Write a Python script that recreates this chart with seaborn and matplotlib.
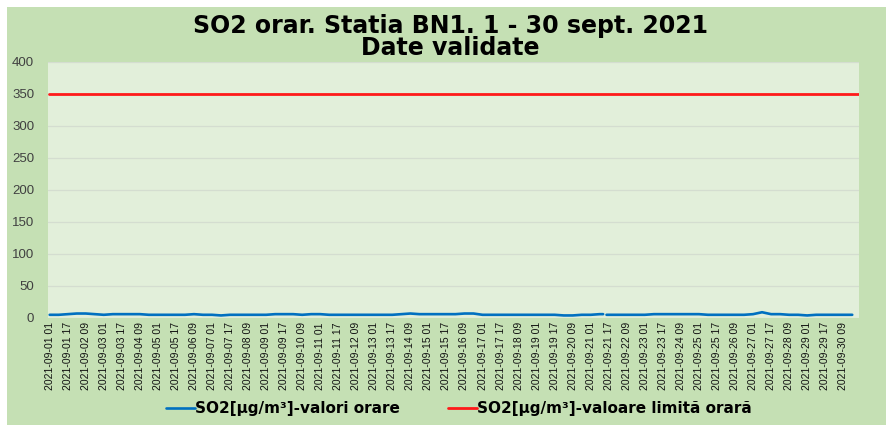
import matplotlib
matplotlib.use("Agg")
import matplotlib.pyplot as plt
from matplotlib.patches import Rectangle
import seaborn as sns
import pandas as pd
import numpy as np

so2_start = "2021-09-01 01:00"
so2_values = [
    5, 5, 6,   7, 7, 6,   5, 6, 6,   6, 6, 5,   5, 5, 5,
    5, 6, 5,   5, 4, 5,   5, 5, 5,   5, 6, 6,   6, 5, 6,
    6, 5, 5,   5, 5, 5,   5, 5, 5,   6, 7, 6,   6, 6, 6,
    6, 7, 7,   5, 5, 5,   5, 5, 5,   5, 5, 5,   4, 4, 5,
    5, 6, 5,   5, 5, 5,   5, 6, 6,   6, 6, 6,   6, 5, 5,
    5, 5, 5,   6, 9, 6,   6, 5, 5,   4, 5, 5,   5, 5, 5,
]
# missing hours on 21 sept (line break)
gap_times = ["2021-09-21 12:00", "2021-09-21 13:00", "2021-09-21 15:00"]
gap_values = [6, np.nan, 5]

limit_value = 350
y_ticks = [0, 50, 100, 150, 200, 250, 300, 350, 400]

times = pd.date_range(so2_start, periods=len(so2_values), freq="8h")
df = pd.DataFrame({"time": times, "so2": so2_values})
df = pd.concat([df, pd.DataFrame({"time": pd.to_datetime(gap_times), "so2": gap_values})])
df = df.sort_values("time").reset_index(drop=True)
gap_at = df.index[df["so2"].isna()][0]
part1 = df.iloc[:gap_at]
part2 = df.iloc[gap_at + 1:]

t0 = pd.Timestamp(so2_start)
t_end = t0 + pd.Timedelta(hours=718)
limit_df = pd.DataFrame({"time": [t0 - pd.Timedelta(hours=1), t_end],
                         "limit": [limit_value, limit_value]})

sns.set_style("white")
plt.rcParams["font.family"] = ["Liberation Sans", "DejaVu Sans"]

fig = plt.figure(figsize=(8.86, 4.30), dpi=100)
fig.patch.set_facecolor("white")
fig.patches.append(Rectangle((7 / 886, 1 - 425 / 430), 1 - 7 / 886, (425 - 7) / 430,
                             transform=fig.transFigure, facecolor="#c5e0b4",
                             edgecolor="none", zorder=-10))

ax = fig.add_axes([48 / 886, 1 - 318 / 430, (859 - 48) / 886, (318 - 62) / 430])
ax.set_zorder(1)
ax.set_facecolor("#e2efda")

sns.lineplot(data=part1, x="time", y="so2", ax=ax, color="#0070c0", linewidth=1.9,
             label="SO2[µg/m³]-valori orare")
sns.lineplot(data=part2, x="time", y="so2", ax=ax, color="#0070c0", linewidth=1.9)
sns.lineplot(data=limit_df, x="time", y="limit", ax=ax, color="#ff1a1a", linewidth=2,
             label="SO2[µg/m³]-valoare limită orară")

ax.set_ylim(0, 400)
ax.set_yticks(y_ticks)
ax.set_xlim(t0 - pd.Timedelta(hours=1.5), t_end)
tick_times = pd.date_range(so2_start, periods=45, freq="16h")
ax.set_xticks(tick_times)
ax.set_xticklabels([t.strftime("%Y-%m-%d %H") for t in tick_times], rotation=90,
                   fontsize=7.5, color="#111111")
ax.tick_params(axis="y", labelsize=9.5, colors="#404040", length=0, pad=10)
ax.tick_params(axis="x", length=0, pad=3)
ax.grid(axis="y", color="#d4ddd0", linewidth=0.9)
ax.set_axisbelow(True)
for s in ax.spines.values():
    s.set_visible(False)
ax.set_xlabel("")
ax.set_ylabel("")

fig.text(0.508, 1 - 37 / 430, "SO2 orar. Statia BN1. 1 - 30 sept. 2021\nDate validate",
         ha="center", va="center", fontsize=17, fontweight="bold", linespacing=0.9,
         color="black", family=["DejaVu Sans"])

leg = ax.legend(loc="center", bbox_to_anchor=(0.518, 1 - 409 / 430), bbox_transform=fig.transFigure,
                ncol=2, frameon=False, prop={"weight": "bold", "size": 11, "family": "DejaVu Sans"},
                handlelength=1.9, columnspacing=3.1, handletextpad=0.05)
for t in leg.get_texts():
    t.set_color("black")

fig.savefig("out.png", dpi=100, facecolor=fig.get_facecolor())
